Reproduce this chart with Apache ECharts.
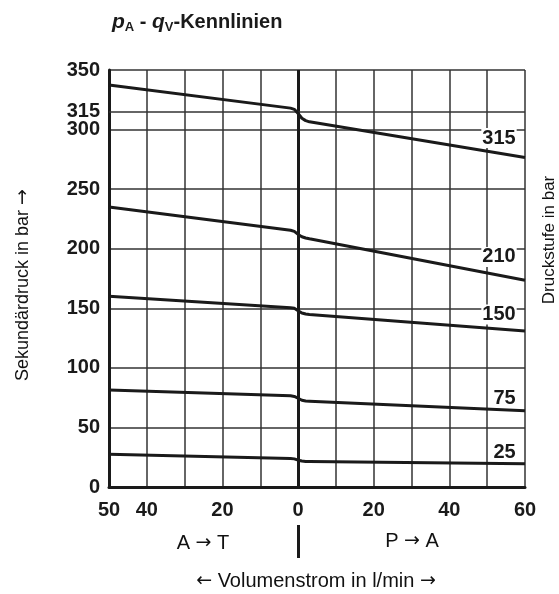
<!DOCTYPE html>
<html>
<head>
<meta charset="utf-8">
<script src="https://cdn.jsdelivr.net/npm/echarts@6/dist/echarts.min.js"></script>
<style>
html, body { margin: 0; padding: 0; background: #fff; }
#chart { width: 559px; height: 594px; }
</style>
</head>
<body>
<div id="chart"></div>
<script>
// Volumenstrom in l/min (negativ = A -> T, positiv = P -> A)
const flowQ = [-50, -2, -1, 0, 1, 2, 3, 60];
// Sekundärdruck in bar je Druckstufe
const p315 = [337.5, 318, 317, 313.5, 309.5, 307.5, 306.5, 276.5];
const p210 = [235, 215.5, 214.5, 212, 210, 209, 208.3, 173.5];
const p150 = [160, 150.5, 150, 148, 146, 145.2, 144.8, 131];
const p75 = [81.5, 76.5, 76, 74.5, 72.8, 72.2, 72, 64];
const p25 = [27.5, 24, 23.6, 22.5, 21.8, 21.5, 21.4, 19.5];
const stageNames = ['315', '210', '150', '75', '25'];
const yTicks = [0, 50, 100, 150, 200, 250, 300, 315, 350];
const xTickShown = [-50, -40, -20, 0, 20, 40, 60];

// label layout: x position and lift above the curve (bar)
const labelQ = 57.8;
const labelLift = [6, 9, 4, 1, 0];
const ink = '#1a1a1a';
const gridInk = '#333';
const numFont = '"Liberation Sans", Arial, sans-serif';
const txtFont = '"Liberation Sans", Arial, sans-serif';

// linear value of a curve at q (for placing the stage label)
function valueAt(vals, q) {
  for (let i = 1; i < flowQ.length; i++) {
    if (q <= flowQ[i]) {
      const t = (q - flowQ[i - 1]) / (flowQ[i] - flowQ[i - 1]);
      return vals[i - 1] + t * (vals[i] - vals[i - 1]);
    }
  }
  return vals[vals.length - 1];
}

function curve(idx, vals) {
  const name = stageNames[idx];
  return {
    name: name,
    type: 'line',
    data: flowQ.map((q, i) => [q, vals[i]]),
    symbol: 'none',
    lineStyle: { color: ink, width: 3, join: 'round' },
    silent: true,
    z: 5,
    markPoint: {
      symbol: 'rect',
      symbolSize: 0,
      silent: true,
      data: [{ coord: [labelQ, valueAt(vals, labelQ) + labelLift[idx]], value: name }],
      label: {
        show: true,
        formatter: name,
        position: 'top',
        align: 'right',
        distance: 1,
        color: ink,
        fontFamily: numFont,
        fontWeight: 'bold',
        fontSize: 20,
        backgroundColor: '#fff',
        padding: [0, 1, 0, 1]
      }
    }
  };
}

const series = [
  curve(0, p315),
  curve(1, p210),
  curve(2, p150),
  curve(3, p75),
  curve(4, p25)
];
// Nulllinie (dick) und 315-bar-Gitterlinie
series[0].markLine = {
  silent: true,
  symbol: 'none',
  label: { show: false },
  z: 3,
  data: [
    { xAxis: 0, lineStyle: { color: ink, width: 3, type: 'solid' } },
    { yAxis: 315, lineStyle: { color: gridInk, width: 1.5, type: 'solid' } }
  ]
};

const arrowRich = { a: { fontFamily: 'DejaVu Sans', fontSize: 19, fill: '#111' } };

const chart = echarts.init(document.getElementById('chart'));
chart.setOption({
  animation: false,
  backgroundColor: '#fff',
  title: {
    left: 107,
    top: 6,
    text: '{i|p}{s|A}{n| - }{i|q}{s|V}{n|-Kennlinien}',
    textStyle: {
      rich: {
        i: { fontFamily: numFont, fontSize: 21, fontWeight: 'bold', fontStyle: 'italic', color: ink },
        s: { fontFamily: numFont, fontSize: 13, fontWeight: 'bold', color: ink, padding: [10, 0, 0, 0] },
        n: { fontFamily: numFont, fontSize: 20, fontWeight: 'bold', color: ink }
      }
    }
  },
  grid: { left: 109, right: 34, top: 70, bottom: 107 },
  xAxis: {
    type: 'value',
    min: -50,
    max: 60,
    interval: 10,
    axisLine: { show: true, lineStyle: { color: ink, width: 3 } },
    axisTick: { show: false },
    axisLabel: {
      margin: 13,
      color: ink,
      fontFamily: numFont,
      fontWeight: 'bold',
      fontSize: 20,
      showMinLabel: true,
      showMaxLabel: true,
      formatter: v => (xTickShown.includes(v) ? String(Math.abs(v)) : '')
    },
    splitLine: { show: true, lineStyle: { color: gridInk, width: 1.5 } }
  },
  yAxis: {
    type: 'value',
    min: 0,
    max: 350,
    interval: 50,
    axisLine: { show: true, onZero: false, lineStyle: { color: ink, width: 3 } },
    axisTick: { show: false },
    axisLabel: {
      customValues: yTicks,
      margin: 9,
      color: ink,
      fontFamily: numFont,
      fontWeight: 'bold',
      fontSize: 20,
      hideOverlap: false
    },
    splitLine: { show: true, lineStyle: { color: gridInk, width: 1.5 } }
  },
  graphic: [
    {
      type: 'text', x: 23, y: 285, rotation: Math.PI / 2,
      style: { text: 'Sekundärdruck in bar {a|→}', rich: arrowRich, fill: '#111', font: '18px ' + txtFont, align: 'center', verticalAlign: 'middle' }
    },
    {
      type: 'text', x: 549, y: 240, rotation: Math.PI / 2,
      style: { text: 'Druckstufe in bar', fill: '#111', font: '17px ' + txtFont, align: 'center', verticalAlign: 'middle' }
    },
    {
      type: 'text', x: 203, y: 543,
      style: { text: 'A {a|→} T', rich: arrowRich, fill: '#111', font: '20px ' + txtFont, align: 'center', verticalAlign: 'middle' }
    },
    {
      type: 'rect', shape: { x: 297, y: 525, width: 3, height: 33 },
      style: { fill: ink }
    },
    {
      type: 'text', x: 412, y: 541,
      style: { text: 'P {a|→} A', rich: arrowRich, fill: '#111', font: '20px ' + txtFont, align: 'center', verticalAlign: 'middle' }
    },
    {
      type: 'text', x: 316, y: 581,
      style: { text: '{a|←} Volumenstrom in l/min {a|→}', rich: arrowRich, fill: '#111', font: '20px ' + txtFont, align: 'center', verticalAlign: 'middle' }
    }
  ],
  series: series
});
</script>
</body>
</html>
